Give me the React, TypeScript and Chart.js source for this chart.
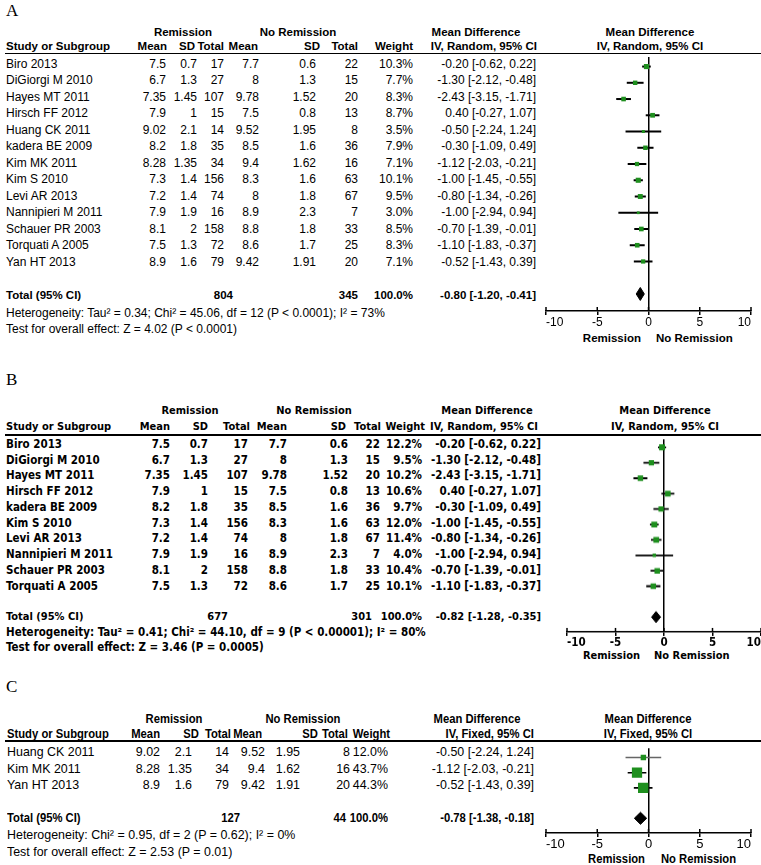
import React, { useEffect, useRef } from "react";
import { Chart, registerables } from "chart.js";

Chart.register(...registerables);

// ---------------- Panel A data ----------------
const studiesA = ["Biro 2013", "DiGiorgi M 2010", "Hayes MT 2011", "Hirsch FF 2012", "Huang CK 2011", "kadera BE 2009", "Kim MK 2011", "Kim S 2010", "Levi AR 2013", "Nannipieri M 2011", "Schauer PR 2003", "Torquati A 2005", "Yan HT 2013"];
const remMeanA = [7.5, 6.7, 7.35, 7.9, 9.02, 8.2, 8.28, 7.3, 7.2, 7.9, 8.1, 7.5, 8.9];
const remSdA = [0.7, 1.3, 1.45, 1, 2.1, 1.8, 1.35, 1.4, 1.4, 1.9, 2, 1.3, 1.6];
const remTotalA = [17, 27, 107, 15, 14, 35, 34, 156, 74, 16, 158, 72, 79];
const noMeanA = [7.7, 8, 9.78, 7.5, 9.52, 8.5, 9.4, 8.3, 8, 8.9, 8.8, 8.6, 9.42];
const noSdA = [0.6, 1.3, 1.52, 0.8, 1.95, 1.6, 1.62, 1.6, 1.8, 2.3, 1.8, 1.7, 1.91];
const noTotalA = [22, 15, 20, 13, 8, 36, 16, 63, 67, 7, 33, 25, 20];
const weightA = [10.3, 7.7, 8.3, 8.7, 3.5, 7.9, 7.1, 10.1, 9.5, 3.0, 8.5, 8.3, 7.1];
const mdA = [-0.2, -1.3, -2.43, 0.4, -0.5, -0.3, -1.12, -1.0, -0.8, -1.0, -0.7, -1.1, -0.52];
const loA = [-0.62, -2.12, -3.15, -0.27, -2.24, -1.09, -2.03, -1.45, -1.34, -2.94, -1.39, -1.83, -1.43];
const hiA = [0.22, -0.48, -1.71, 1.07, 1.24, 0.49, -0.21, -0.55, -0.26, 0.94, -0.01, -0.37, 0.39];
const totalsA = [804, 345];
const pooledA = [-0.8, -1.2, -0.41];

// ---------------- Panel B data ----------------
const studiesB = ["Biro 2013", "DiGiorgi M 2010", "Hayes MT 2011", "Hirsch FF 2012", "kadera BE 2009", "Kim S 2010", "Levi AR 2013", "Nannipieri M 2011", "Schauer PR 2003", "Torquati A 2005"];
const remMeanB = [7.5, 6.7, 7.35, 7.9, 8.2, 7.3, 7.2, 7.9, 8.1, 7.5];
const remSdB = [0.7, 1.3, 1.45, 1, 1.8, 1.4, 1.4, 1.9, 2, 1.3];
const remTotalB = [17, 27, 107, 15, 35, 156, 74, 16, 158, 72];
const noMeanB = [7.7, 8, 9.78, 7.5, 8.5, 8.3, 8, 8.9, 8.8, 8.6];
const noSdB = [0.6, 1.3, 1.52, 0.8, 1.6, 1.6, 1.8, 2.3, 1.8, 1.7];
const noTotalB = [22, 15, 20, 13, 36, 63, 67, 7, 33, 25];
const weightB = [12.2, 9.5, 10.2, 10.6, 9.7, 12.0, 11.4, 4.0, 10.4, 10.1];
const mdB = [-0.2, -1.3, -2.43, 0.4, -0.3, -1.0, -0.8, -1.0, -0.7, -1.1];
const loB = [-0.62, -2.12, -3.15, -0.27, -1.09, -1.45, -1.34, -2.94, -1.39, -1.83];
const hiB = [0.22, -0.48, -1.71, 1.07, 0.49, -0.55, -0.26, 0.94, -0.01, -0.37];
const totalsB = [677, 301];
const pooledB = [-0.82, -1.28, -0.35];

// ---------------- Panel C data ----------------
const studiesC = ["Huang CK 2011", "Kim MK 2011", "Yan HT 2013"];
const remMeanC = [9.02, 8.28, 8.9];
const remSdC = [2.1, 1.35, 1.6];
const remTotalC = [14, 34, 79];
const noMeanC = [9.52, 9.4, 9.42];
const noSdC = [1.95, 1.62, 1.91];
const noTotalC = [8, 16, 20];
const weightC = [12.0, 43.7, 44.3];
const mdC = [-0.5, -1.12, -0.52];
const loC = [-2.24, -2.03, -1.43];
const hiC = [1.24, -0.21, 0.39];
const totalsC = [127, 44];
const pooledC = [-0.78, -1.38, -0.18];

const axisTicks = [-10, -5, 0, 5, 10];

const GREEN = "#1e8f1e";
const FONT_A = '"Liberation Sans", Arial, sans-serif';
const FONT_B = '"DejaVu Sans Condensed", "DejaVu Sans", sans-serif';

const fmt2 = (v: number) => v.toFixed(2);
const ciText = (m: number, l: number, h: number) => `${fmt2(m)} [${fmt2(l)}, ${fmt2(h)}]`;
const wText = (w: number) => `${w.toFixed(1)}%`;

type Align = "left" | "right" | "center";

function Txt(props: {
  x: number;
  y: number;
  align?: Align;
  bold?: boolean;
  font: React.CSSProperties;
  size?: number;
  sx?: number;
  children: React.ReactNode;
}) {
  const { x, y, align = "left", bold, font, size, sx = 1, children } = props;
  const W = 460;
  const left = align === "left" ? x : align === "right" ? x - W : x - W / 2;
  const origin = align === "left" ? "left center" : align === "right" ? "right center" : "center center";
  return (
    <div
      style={{
        position: "absolute",
        left,
        top: y - 10,
        width: W,
        height: 20,
        lineHeight: "20px",
        textAlign: align,
        whiteSpace: "pre",
        color: "#000",
        fontWeight: bold ? 700 : 400,
        ...font,
        ...(size ? { fontSize: size } : {}),
        ...(sx !== 1 ? { transform: `scaleX(${sx})`, transformOrigin: origin } : {}),
      }}
    >
      {children}
    </div>
  );
}

const crossTicks = {
  id: "crossTicks",
  afterDatasetsDraw(chart: any) {
    const s = chart.scales.x;
    const ctx = chart.ctx;
    const y = chart.chartArea.bottom;
    ctx.save();
    ctx.strokeStyle = "#000";
    ctx.lineWidth = 1.5;
    s.ticks.forEach((t: any) => {
      const x = s.getPixelForValue(t.value);
      ctx.beginPath();
      ctx.moveTo(x, y);
      ctx.lineTo(x, y - 4);
      ctx.stroke();
    });
    ctx.restore();
  },
};

type ForestProps = {
  x0: number;
  x1: number;
  top: number;
  bottom: number;
  rowY0: number;
  rowH: number;
  md: number[];
  lo: number[];
  hi: number[];
  weight: number[];
  pooled: number[];
  totalRow: number;
  diamondHalf: number;
  sizeK: number;
  ciWidth: number;
  ciColors?: string[];
  tickFont: any;
};

function Forest(p: ForestProps) {
  const ref = useRef<HTMLCanvasElement | null>(null);
  const pad = 20;
  const axisH = 22;
  const width = p.x1 - p.x0 + 2 * pad;
  const height = p.bottom - p.top + axisH;
  const yMin = (p.top - p.rowY0) / p.rowH;
  const yMax = (p.bottom - p.rowY0) / p.rowH;

  useEffect(() => {
    if (!ref.current) return;
    const [pm, pl, ph] = p.pooled;
    const r = p.totalRow;
    const h = p.diamondHalf;
    const ciSets = p.md.map((_, i) => ({
      data: [
        { x: p.lo[i], y: i },
        { x: p.hi[i], y: i },
      ],
      borderColor: p.ciColors ? p.ciColors[i] : "#000",
      borderWidth: p.ciWidth,
      pointRadius: 0,
      fill: false,
      order: 2,
    }));
    const chart = new Chart(ref.current, {
      type: "line",
      data: {
        datasets: [
          {
            data: p.md.map((m, i) => ({ x: m, y: i })),
            showLine: false,
            pointStyle: "rect",
            pointRadius: p.weight.map((w) => (p.sizeK * Math.sqrt(w)) / 1.4142),
            pointBackgroundColor: GREEN,
            pointBorderWidth: 0,
            order: 0,
          } as any,
          {
            data: [
              { x: pl, y: r },
              { x: pm, y: r - h },
              { x: ph, y: r },
              { x: pm, y: r + h },
              { x: pl, y: r },
            ],
            borderColor: "#000",
            backgroundColor: "#000",
            borderWidth: 1,
            pointRadius: 0,
            tension: 0,
            fill: "shape",
            order: 0,
          } as any,
          ...ciSets,
        ],
      },
      options: {
        animation: false,
        responsive: false,
        devicePixelRatio: 1,
        events: [],
        layout: { padding: { left: pad, right: pad, top: 0, bottom: 0 } },
        plugins: { legend: { display: false }, tooltip: { enabled: false }, title: { display: false } },
        scales: {
          x: {
            type: "linear",
            position: "bottom",
            min: -10,
            max: 10,
            afterBuildTicks: (s: any) => {
              s.ticks = axisTicks.map((v) => ({ value: v }));
            },
            afterFit: (s: any) => {
              s.height = axisH;
            },
            grid: {
              display: true,
              drawOnChartArea: true,
              drawTicks: true,
              tickLength: 4,
              lineWidth: 1.5,
              tickColor: "#000",
              color: (ctx: any) => (ctx.tick && ctx.tick.value === 0 ? "#000" : "rgba(0,0,0,0)"),
            },
            border: { display: true, color: "#000", width: 1.5 },
            ticks: {
              align: "inner",
              color: "#000",
              font: p.tickFont,
              padding: 0,
              maxRotation: 0,
              autoSkip: false,
            },
          },
          y: { type: "linear", display: false, min: yMin, max: yMax, reverse: true },
        },
      } as any,
      plugins: [crossTicks],
    });
    return () => chart.destroy();
  }, []);

  return (
    <canvas
      ref={ref}
      width={width}
      height={height}
      style={{ position: "absolute", left: p.x0 - pad, top: p.top, width, height }}
    />
  );
}

type PanelProps = {
  letter: string;
  letterY: number;
  font: React.CSSProperties;
  headSize: number;
  sx: number;
  headSx: number;
  allBold: boolean;
  h1Y: number;
  h2Y: number;
  lineY: number;
  rowY0: number;
  rowH: number;
  textDy: number;
  studies: string[];
  remMean: number[];
  remSd: number[];
  remTotal: number[];
  noMean: number[];
  noSd: number[];
  noTotal: number[];
  weight: number[];
  md: number[];
  lo: number[];
  hi: number[];
  totals: number[];
  pooled: number[];
  totalRow: number;
  het: string;
  test: string;
  hetY: number;
  testY: number;
  cols: number[]; // name, rm, rs, rt, nm, ns, nt, w, ci  (row right edges)
  head: number[]; // rm, rs, rt, nm, ns, nt, w, ci (header right edges)
  totX: number[]; // right edges of the two totals in the total row
  h1: number[]; // centers: rem, no, md, md2
  ciHeader: string;
  chart: { x0: number; x1: number; top: number; bottom: number; sizeK: number; ciWidth: number; diamondHalf: number; ciColors?: string[] };
  tickFont: any;
  remY: number;
  remRight: number;
  noLeft: number;
};

function Panel(p: PanelProps) {
  const f = p.font;
  const b = p.allBold;
  const hs = p.headSize;
  const [cName, cRm, cRs, cRt, cNm, cNs, cNt, cW, cCi] = p.cols;
  const [hRm, hRs, hRt, hNm, hNs, hNt, hW, hCi] = p.head;
  const rowText = (i: number) => p.rowY0 + p.rowH * i + p.textDy;
  const ty = rowText(p.totalRow);
  const H = (x: number, y: number, align: Align, s: string) => (
    <Txt x={x} y={y} align={align} bold font={f} size={hs} sx={p.headSx}>
      {s}
    </Txt>
  );
  const R = (x: number, y: number, align: Align, s: string, bold: boolean) => (
    <Txt x={x} y={y} align={align} bold={bold} font={f} sx={p.sx}>
      {s}
    </Txt>
  );
  return (
    <>
      <div
        style={{
          position: "absolute",
          left: 6,
          top: p.letterY - 11,
          height: 22,
          lineHeight: "22px",
          fontFamily: '"Liberation Serif", "DejaVu Serif", serif',
          fontSize: 17,
          color: "#000",
        }}
      >
        {p.letter}
      </div>
      {H(p.h1[0], p.h1Y, "center", "Remission")}
      {H(p.h1[1], p.h1Y, "center", "No Remission")}
      {H(p.h1[2], p.h1Y, "center", "Mean Difference")}
      {H(p.h1[3], p.h1Y, "center", "Mean Difference")}
      {H(cName, p.h2Y, "left", "Study or Subgroup")}
      {H(hRm, p.h2Y, "right", "Mean")}
      {H(hRs, p.h2Y, "right", "SD")}
      {H(hRt, p.h2Y, "right", "Total")}
      {H(hNm, p.h2Y, "right", "Mean")}
      {H(hNs, p.h2Y, "right", "SD")}
      {H(hNt, p.h2Y, "right", "Total")}
      {H(hW, p.h2Y, "right", "Weight")}
      {H(hCi, p.h2Y, "right", p.ciHeader)}
      {H(p.h1[3], p.h2Y, "center", p.ciHeader)}
      <div style={{ position: "absolute", left: 5, top: p.lineY, width: 756, height: 1.5, background: "#000" }} />
      {p.studies.map((s, i) => (
        <React.Fragment key={s}>
          {R(cName, rowText(i), "left", s, b)}
          {R(cRm, rowText(i), "right", String(p.remMean[i]), b)}
          {R(cRs, rowText(i), "right", String(p.remSd[i]), b)}
          {R(cRt, rowText(i), "right", String(p.remTotal[i]), b)}
          {R(cNm, rowText(i), "right", String(p.noMean[i]), b)}
          {R(cNs, rowText(i), "right", String(p.noSd[i]), b)}
          {R(cNt, rowText(i), "right", String(p.noTotal[i]), b)}
          {R(cW, rowText(i), "right", wText(p.weight[i]), b)}
          {R(cCi, rowText(i), "right", ciText(p.md[i], p.lo[i], p.hi[i]), b)}
        </React.Fragment>
      ))}
      {H(cName, ty, "left", "Total (95% CI)")}
      {H(p.totX[0], ty, "right", String(p.totals[0]))}
      {H(p.totX[1], ty, "right", String(p.totals[1]))}
      {H(cW, ty, "right", "100.0%")}
      {H(cCi, ty, "right", ciText(p.pooled[0], p.pooled[1], p.pooled[2]))}
      {R(cName, p.hetY, "left", p.het, b)}
      {R(cName, p.testY, "left", p.test, b)}
      {H(p.remRight, p.remY, "right", "Remission")}
      {H(p.noLeft, p.remY, "left", "No Remission")}
      <Forest
        x0={p.chart.x0}
        x1={p.chart.x1}
        top={p.chart.top}
        bottom={p.chart.bottom}
        rowY0={p.rowY0}
        rowH={p.rowH}
        md={p.md}
        lo={p.lo}
        hi={p.hi}
        weight={p.weight}
        pooled={p.pooled}
        totalRow={p.totalRow}
        diamondHalf={p.chart.diamondHalf}
        sizeK={p.chart.sizeK}
        ciWidth={p.chart.ciWidth}
        ciColors={p.chart.ciColors}
        tickFont={p.tickFont}
      />
    </>
  );
}

export default function App() {
  const fontA: React.CSSProperties = { fontFamily: FONT_A, fontSize: 12 };
  const fontB: React.CSSProperties = { fontFamily: FONT_B, fontSize: 11.5, fontStretch: "condensed" };
  const fontC: React.CSSProperties = { fontFamily: FONT_A, fontSize: 13.5 };
  return (
    <div style={{ position: "fixed", left: 0, top: 0, width: 761, height: 865, overflow: "hidden", background: "#fff" }}>
      <Panel
        letter="A"
        letterY={11}
        font={fontA}
        headSize={11.5}
        sx={1}
        headSx={1}
        allBold={false}
        h1Y={32}
        h2Y={45.5}
        lineY={52.5}
        rowY0={62.7}
        rowH={16.5}
        textDy={1}
        studies={studiesA}
        remMean={remMeanA}
        remSd={remSdA}
        remTotal={remTotalA}
        noMean={noMeanA}
        noSd={noSdA}
        noTotal={noTotalA}
        weight={weightA}
        md={mdA}
        lo={loA}
        hi={hiA}
        totals={totalsA}
        pooled={pooledA}
        totalRow={14}
        het={"Heterogeneity: Tau² = 0.34; Chi² = 45.06, df = 12 (P < 0.0001); I² = 73%"}
        test={"Test for overall effect: Z = 4.02 (P < 0.0001)"}
        hetY={312.5}
        testY={329}
        cols={[6, 166, 197, 224, 259, 316, 358, 413, 536]}
        head={[167, 195, 224, 258, 320, 358, 413, 537]}
        totX={[233, 358]}
        h1={[183, 298, 476, 650]}
        ciHeader="IV, Random, 95% CI"
        chart={{ x0: 546, x1: 751, top: 53, bottom: 311, sizeK: 1.6, ciWidth: 2, diamondHalf: 0.4 }}
        tickFont={{ family: FONT_A, size: 12 }}
        remY={338}
        remRight={641}
        noLeft={656}
      />
      <Panel
        letter="B"
        letterY={380}
        font={fontB}
        headSize={11}
        sx={1}
        headSx={1}
        allBold={true}
        h1Y={410.5}
        h2Y={426.5}
        lineY={434}
        rowY0={443.3}
        rowH={15.75}
        textDy={0.5}
        studies={studiesB}
        remMean={remMeanB}
        remSd={remSdB}
        remTotal={remTotalB}
        noMean={noMeanB}
        noSd={noSdB}
        noTotal={noTotalB}
        weight={weightB}
        md={mdB}
        lo={loB}
        hi={hiB}
        totals={totalsB}
        pooled={pooledB}
        totalRow={11}
        het={"Heterogeneity: Tau² = 0.41; Chi² = 44.10, df = 9 (P < 0.00001); I² = 80%"}
        test={"Test for overall effect: Z = 3.46 (P = 0.0005)"}
        hetY={631.5}
        testY={647}
        cols={[6, 170, 208, 248, 287, 348, 380, 422, 541]}
        head={[170, 208, 250, 287, 346, 381, 425, 538]}
        totX={[228, 372]}
        h1={[190, 314, 487, 665]}
        ciHeader="IV, Random, 95% CI"
        chart={{ x0: 567, x1: 761, top: 435, bottom: 631.7, sizeK: 1.7, ciWidth: 1.8, diamondHalf: 0.36 }}
        tickFont={{ family: FONT_B, size: 11.5, weight: "bold" }}
        remY={656}
        remRight={640}
        noLeft={654}
      />
      <Panel
        letter="C"
        letterY={687}
        font={fontC}
        headSize={12.5}
        sx={0.92}
        headSx={0.9}
        allBold={false}
        h1Y={719}
        h2Y={734}
        lineY={740}
        rowY0={751}
        rowH={16.5}
        textDy={1}
        studies={studiesC}
        remMean={remMeanC}
        remSd={remSdC}
        remTotal={remTotalC}
        noMean={noMeanC}
        noSd={noSdC}
        noTotal={noTotalC}
        weight={weightC}
        md={mdC}
        lo={loC}
        hi={hiC}
        totals={totalsC}
        pooled={pooledC}
        totalRow={4}
        het={"Heterogeneity: Chi² = 0.95, df = 2 (P = 0.62); I² = 0%"}
        test={"Test for overall effect: Z = 2.53 (P = 0.01)"}
        hetY={835}
        testY={852}
        cols={[7, 160, 192, 229, 265, 300, 350, 388, 534]}
        head={[160, 199, 231, 262, 318, 348, 390, 534]}
        totX={[240, 346]}
        h1={[174, 303, 477, 648]}
        ciHeader="IV, Fixed, 95% CI"
        chart={{ x0: 546, x1: 751, top: 741, bottom: 833, sizeK: 1.55, ciWidth: 1.6, diamondHalf: 0.4, ciColors: ["#666", "#000", "#000"] }}
        tickFont={{ family: FONT_A, size: 13 }}
        remY={859}
        remRight={645}
        noLeft={661}
      />
    </div>
  );
}
